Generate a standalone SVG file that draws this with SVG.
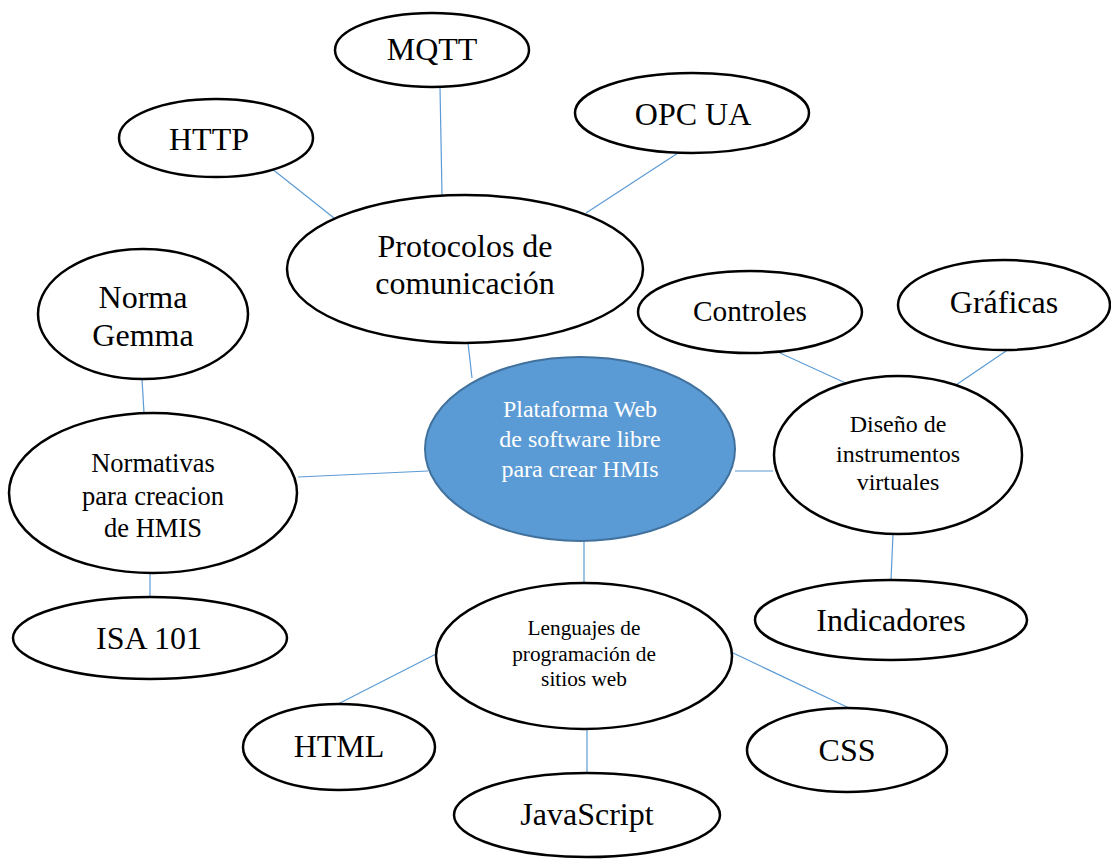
<svg xmlns="http://www.w3.org/2000/svg" width="1111" height="861" viewBox="0 0 1111 861">
<style>
.n{fill:#fff;stroke:#000;stroke-width:2.5}
.c{fill:#5B9BD5;stroke:#41719C;stroke-width:2}
.t{font-family:"Liberation Serif","Times New Roman",serif;fill:#000;text-anchor:middle}
.w{fill:#fff}
.l{stroke:#5B9BD5;stroke-width:1.2;fill:none}
</style>
<rect width="1111" height="861" fill="#fff"/>
<g id="connectors">
<line class="l" x1="271" y1="168" x2="334" y2="218"/>
<line class="l" x1="440" y1="87" x2="442" y2="195"/>
<line class="l" x1="678" y1="153" x2="586" y2="213"/>
<line class="l" x1="468" y1="343" x2="472" y2="378"/>
<line class="l" x1="142" y1="379" x2="144" y2="413"/>
<line class="l" x1="298" y1="477" x2="428" y2="471"/>
<line class="l" x1="150" y1="573" x2="150" y2="597"/>
<line class="l" x1="735" y1="471" x2="773" y2="471"/>
<line class="l" x1="780" y1="353" x2="850" y2="385"/>
<line class="l" x1="1009" y1="349" x2="953" y2="387"/>
<line class="l" x1="893" y1="534" x2="891" y2="580"/>
<line class="l" x1="584" y1="541" x2="584" y2="583"/>
<line class="l" x1="436" y1="654" x2="338" y2="704"/>
<line class="l" x1="731" y1="652" x2="849" y2="708"/>
<line class="l" x1="587" y1="728" x2="587" y2="773"/>
</g>
<g id="mqtt"><ellipse class="n" cx="432" cy="50" rx="97" ry="37"/><text class="t" x="432" y="60" font-size="32">MQTT</text></g>
<g id="http"><ellipse class="n" cx="216" cy="138" rx="97" ry="39"/><text class="t" x="209" y="150" font-size="32">HTTP</text></g>
<g id="opcua"><ellipse class="n" cx="692" cy="113" rx="117" ry="40"/><text class="t" x="693" y="125" font-size="32">OPC UA</text></g>
<g id="protocolos"><ellipse class="n" cx="465" cy="269" rx="178" ry="74"/><text class="t" font-size="32"><tspan x="465" y="257">Protocolos de</tspan><tspan x="465" y="294">comunicación</tspan></text></g>
<g id="gemma"><ellipse class="n" cx="143" cy="314" rx="105" ry="65"/><text class="t" font-size="32"><tspan x="143" y="308">Norma</tspan><tspan x="143" y="346">Gemma</tspan></text></g>
<g id="normativas"><ellipse class="n" cx="153" cy="493" rx="144" ry="80"/><text class="t" font-size="26.5"><tspan x="153" y="472">Normativas</tspan><tspan x="153" y="505">para creacion</tspan><tspan x="153" y="537">de HMIS</tspan></text></g>
<g id="isa"><ellipse class="n" cx="150" cy="638" rx="137" ry="41"/><text class="t" x="149" y="649" font-size="32">ISA 101</text></g>
<g id="plataforma"><ellipse class="c" cx="580" cy="449" rx="155" ry="92"/><text class="t w" font-size="24"><tspan x="580" y="417">Plataforma Web</tspan><tspan x="580" y="447">de software libre</tspan><tspan x="580" y="477">para crear HMIs</tspan></text></g>
<g id="controles"><ellipse class="n" cx="750" cy="312" rx="112" ry="41"/><text class="t" x="750" y="321" font-size="29.3">Controles</text></g>
<g id="graficas"><ellipse class="n" cx="1004" cy="305" rx="106" ry="45"/><text class="t" x="1004" y="313" font-size="32">Gráficas</text></g>
<g id="diseno"><ellipse class="n" cx="898" cy="455" rx="124" ry="79"/><text class="t" font-size="24"><tspan x="898" y="432">Diseño de</tspan><tspan x="898" y="462">instrumentos</tspan><tspan x="898" y="490">virtuales</tspan></text></g>
<g id="indicadores"><ellipse class="n" cx="891" cy="620" rx="136" ry="40"/><text class="t" x="891" y="631" font-size="32">Indicadores</text></g>
<g id="lenguajes"><ellipse class="n" cx="584" cy="656" rx="148" ry="73"/><text class="t" font-size="21.3"><tspan x="584" y="635">Lenguajes de</tspan><tspan x="584" y="661">programación de</tspan><tspan x="584" y="686">sitios web</tspan></text></g>
<g id="html"><ellipse class="n" cx="339" cy="747" rx="96" ry="43"/><text class="t" x="339" y="757" font-size="32">HTML</text></g>
<g id="css"><ellipse class="n" cx="847" cy="750" rx="100" ry="42"/><text class="t" x="847" y="761" font-size="32">CSS</text></g>
<g id="javascript"><ellipse class="n" cx="587" cy="815" rx="133" ry="42"/><text class="t" x="587" y="825" font-size="32">JavaScript</text></g>
</svg>
